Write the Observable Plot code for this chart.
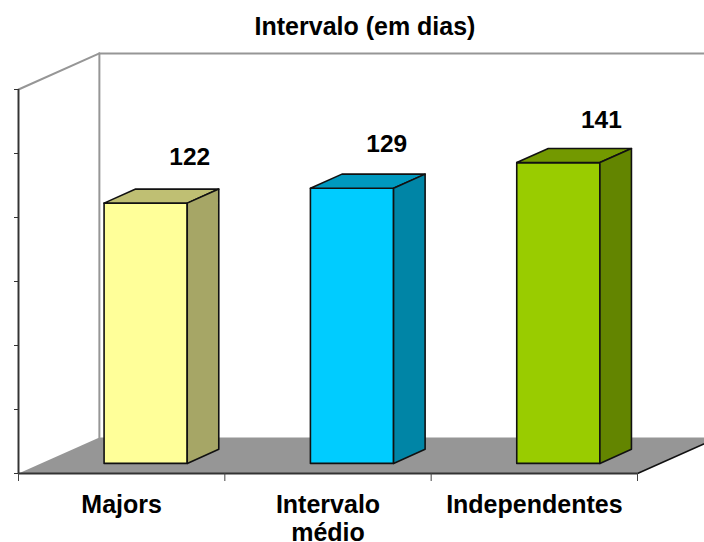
<!DOCTYPE html>
<html>
<head>
<meta charset="utf-8">
<script src="https://cdn.jsdelivr.net/npm/d3@7"></script>
<script src="https://cdn.jsdelivr.net/npm/@observablehq/plot@0.6"></script>
<style>
  html, body { margin: 0; padding: 0; background: #fff; }
  #title { height: 46px; box-sizing: border-box; padding: 12px 0 0 26px; text-align: center;
           font: bold 25px/28px "Liberation Sans", Arial, sans-serif; color: #000; white-space: nowrap; }
  svg { display: block; }
</style>
</head>
<body>
<div id="title">Intervalo (em dias)</div>
<div id="chart"></div>
<script>
const categories = ["Majors", "Intervalo\nmédio", "Independentes"];
const values = [122, 129, 141];
const frontColors = ["#FFFF99", "#00CCFF", "#99CC00"];
const topColors = ["#BFBF73", "#0099BF", "#739900"];
const sideColors = ["#A6A666", "#0085A6", "#638500"];
const labelNudge = [-0.005, -0.05, -0.01];

const yMax = 180, yStep = 30;
const depthX = 0.392, depthY = 16.9;   // oblique projection of one unit of depth
const barLeft = 0.305, barRight = 0.708, barFront = 0.28, barBack = 0.67;

const project = (u, v, d) => ({x: u + d * depthX, y: v + d * depthY});
const poly = (key, fill, corners) =>
  [...corners, corners[0]].map(([u, v, d]) => ({...project(u, v, d), key, fill}));

const floor = poly("floor", "#969696", [[0,0,0],[0,0,1],[3,0,1],[3,0,0]]);
const wall = [project(0,0,0), project(0,yMax,0), project(0,yMax,1), project(0,0,1)];
const backTop = [project(0,yMax,1), project(3,yMax,1)];

const faces = values.flatMap((v, i) => {
  const a = i + barLeft, b = i + barRight;
  return [
    ...poly(`f${i}`, frontColors[i], [[a,0,barFront],[b,0,barFront],[b,v,barFront],[a,v,barFront]]),
    ...poly(`t${i}`, topColors[i], [[a,v,barFront],[b,v,barFront],[b,v,barBack],[a,v,barBack]]),
    ...poly(`s${i}`, sideColors[i], [[b,0,barFront],[b,0,barBack],[b,v,barBack],[b,v,barFront]])
  ];
});

const valueLabels = values.map((v, i) => ({
  x: i + 0.835 + labelNudge[i], y: v + 26.5 - i * 0.9, text: String(v)
}));

const chart = Plot.plot({
  width: 704,
  height: 496,
  marginLeft: 18,
  marginRight: 67,
  marginTop: 43,
  marginBottom: 69,
  x: {domain: [0, 3], axis: null},
  y: {domain: [0, yMax], axis: null},
  color: {type: "identity"},
  style: {background: "#fff", fontFamily: "'Liberation Sans', Arial, sans-serif"},
  marks: [
    Plot.line(wall.slice(0, 3), {x: "x", y: "y", stroke: "#969696", strokeWidth: 2}),
    Plot.line(wall.slice(2), {x: "x", y: "y", stroke: "#969696", strokeWidth: 2}),
    Plot.line(backTop, {x: "x", y: "y", stroke: "#969696", strokeWidth: 2}),
    Plot.line(floor, {x: "x", y: "y", z: "key", fill: "fill", stroke: "none"}),
    Plot.line(faces, {x: "x", y: "y", z: "key", fill: "fill", stroke: "#111", strokeWidth: 1.6, strokeLinejoin: "round"}),
    Plot.line([project(3,0,0), project(3,0,1)], {x: "x", y: "y", stroke: "#111", strokeWidth: 1.6}),
    Plot.ruleX([0], {y1: 0, y2: yMax, stroke: "#333", strokeWidth: 1.6}),
    Plot.ruleY([0], {x1: 0, x2: 3, stroke: "#333", strokeWidth: 2}),
    Plot.axisY({ticks: d3.range(0, yMax + 1, yStep), tickFormat: () => "", tickSize: 4, stroke: "#333", anchor: "left", label: null}),
    Plot.axisX({ticks: [0, 1, 2, 3], tickFormat: () => "", tickSize: 8, stroke: "#444", anchor: "bottom", label: null}),
    Plot.axisX({ticks: [0.5, 1.5, 2.5], tickFormat: (d) => categories[Math.floor(d)], tickSize: 0, tickPadding: 20,
      anchor: "bottom", label: null, fontSize: 25, fontWeight: "bold", fill: "#000", lineHeight: 1.12, textOverflow: null}),
    Plot.text(valueLabels, {x: "x", y: "y", text: "text", fontSize: 24.5, fontWeight: "bold", fill: "#000"})
  ]
});
document.getElementById("chart").append(chart);
</script>
</body>
</html>
